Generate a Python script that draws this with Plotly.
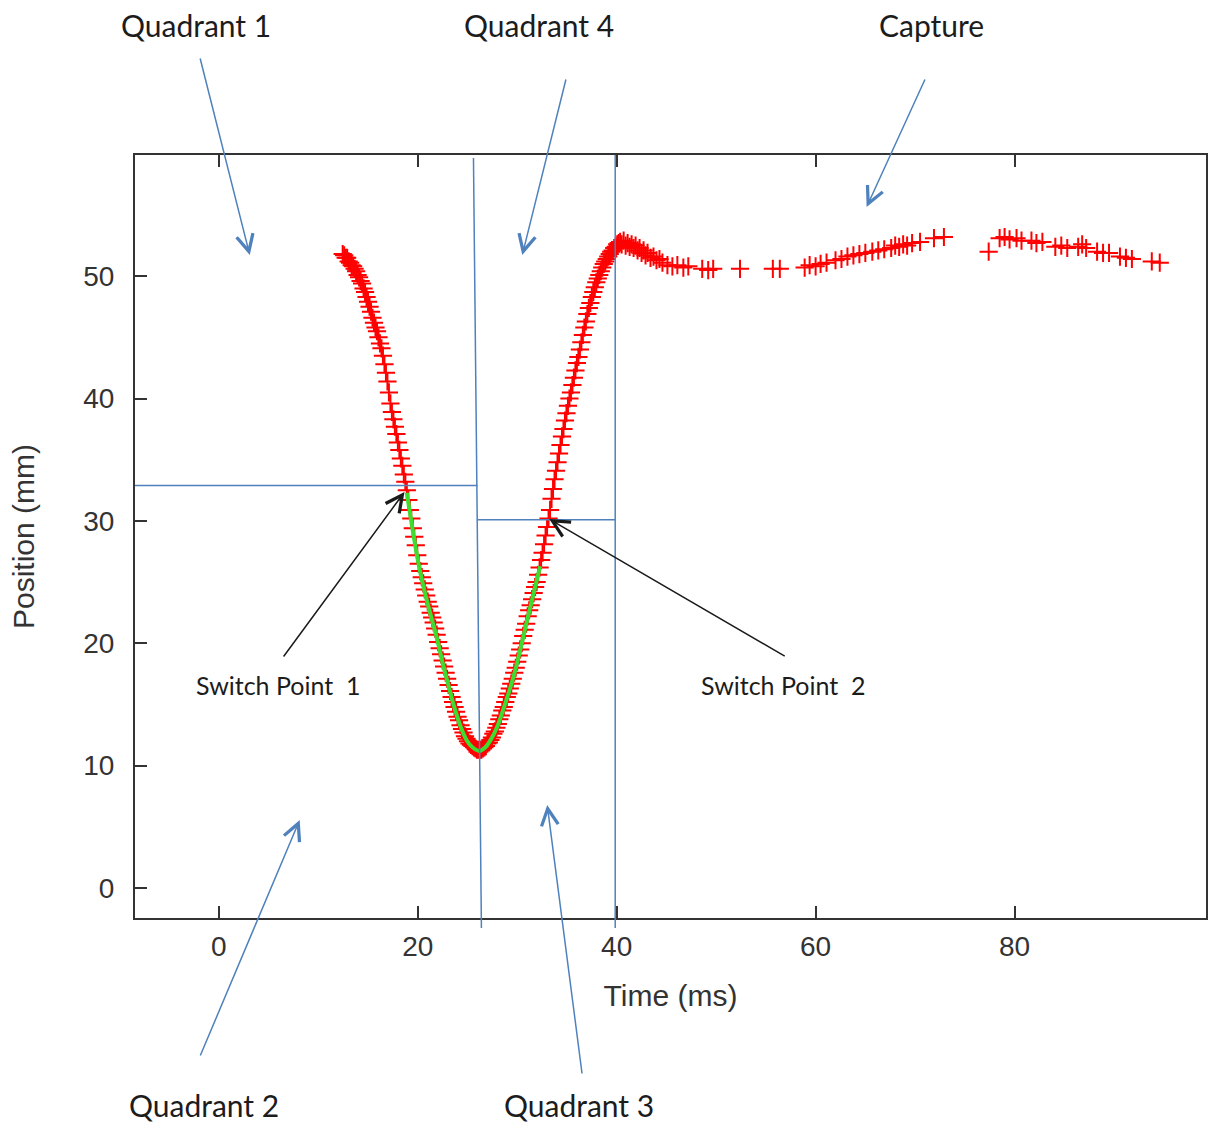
import plotly.graph_objects as go

# ---------------- data ----------------
descend_t = [12.45, 12.6, 12.75, 12.9, 13.05, 13.2, 13.35, 13.5, 13.65, 13.8, 13.95, 14.1, 14.25, 14.4,
             14.55, 14.7, 14.85, 15.0, 15.15, 15.3, 15.45, 15.6, 15.75, 15.9, 16.05, 16.2, 16.35, 16.5,
             16.65, 16.8, 16.95, 17.1, 17.25, 17.4, 17.55, 17.7, 17.85, 18.0, 18.15, 18.3, 18.45, 18.6,
             18.75, 18.9, 19.05, 19.2, 19.35, 19.5, 19.65, 19.8, 19.95, 20.1, 20.25, 20.4, 20.55, 20.7,
             20.85, 21.0, 21.15, 21.3, 21.45, 21.6, 21.75, 21.9, 22.05, 22.2, 22.35, 22.5, 22.65, 22.8,
             22.95, 23.1, 23.25, 23.4, 23.55, 23.7, 23.85, 24.0, 24.15, 24.3, 24.45, 24.6, 24.75, 24.9,
             25.05, 25.2, 25.35, 25.5, 25.65, 25.8, 25.95, 26.1]
descend_y = [51.8, 51.7, 51.5, 51.5, 51.2, 51.1, 50.9, 50.8, 50.6, 50.4, 50.1, 49.9, 49.6, 49.4,
             49.0, 48.7, 48.3, 47.9, 47.5, 47.1, 46.6, 46.2, 45.8, 45.5, 45.0, 44.5, 44.1, 43.5,
             42.8, 42.1, 41.4, 40.5, 39.6, 38.9, 38.3, 37.7, 37.1, 36.4, 35.8, 35.1, 34.5, 33.8,
             33.2, 32.5, 31.7, 30.9, 30.2, 29.4, 28.7, 28.0, 27.2, 26.5, 25.9, 25.4, 24.9, 24.4,
             23.9, 23.4, 23.0, 22.5, 22.1, 21.7, 21.2, 20.7, 20.1, 19.6, 19.1, 18.6, 18.1, 17.6,
             17.1, 16.6, 16.1, 15.6, 15.2, 14.8, 14.4, 14.0, 13.7, 13.3, 13.0, 12.7, 12.4, 12.2,
             12.0, 11.8, 11.7, 11.6, 11.5, 11.4, 11.3, 11.3]

rise_t = [26.25, 26.4, 26.55, 26.7, 26.85, 27.0, 27.15, 27.3, 27.45, 27.6, 27.75, 27.9, 28.05, 28.2,
          28.35, 28.5, 28.65, 28.8, 28.95, 29.1, 29.25, 29.4, 29.55, 29.7, 29.85, 30.0, 30.15, 30.3,
          30.45, 30.6, 30.75, 30.9, 31.05, 31.2, 31.35, 31.5, 31.65, 31.8, 31.95, 32.1, 32.25, 32.4,
          32.55, 32.7, 32.85, 33.0, 33.15, 33.3, 33.45, 33.6, 33.75, 33.9, 34.05, 34.2, 34.35, 34.5,
          34.65, 34.8, 34.95, 35.1, 35.25, 35.4, 35.55, 35.7, 35.85, 36.0, 36.15, 36.3, 36.45, 36.6,
          36.75, 36.9, 37.05, 37.2, 37.35, 37.5, 37.65, 37.8, 37.95, 38.1, 38.25, 38.4, 38.55, 38.7,
          38.85, 39.0, 39.15, 39.3, 39.45, 39.6, 39.75, 39.9, 40.05, 40.2, 40.35]
rise_y = [11.3, 11.3, 11.4, 11.5, 11.6, 11.8, 11.9, 12.1, 12.3, 12.6, 12.8, 13.1, 13.4, 13.8,
          14.1, 14.5, 14.8, 15.2, 15.6, 15.9, 16.3, 16.7, 17.1, 17.6, 18.0, 18.5, 19.0, 19.5,
          20.0, 20.6, 21.1, 21.6, 22.2, 22.7, 23.1, 23.6, 24.1, 24.6, 25.0, 25.6, 26.2, 26.8,
          27.4, 28.1, 28.8, 29.5, 30.2, 30.9, 31.8, 32.6, 33.4, 34.1, 34.8, 35.5, 36.2, 36.9,
          37.5, 38.2, 38.8, 39.4, 40.0, 40.5, 41.1, 41.7, 42.3, 42.9, 43.4, 44.0, 44.6, 45.2,
          45.8, 46.3, 46.9, 47.4, 47.8, 48.3, 48.7, 49.1, 49.5, 49.8, 50.1, 50.4, 50.7, 51.0,
          51.2, 51.4, 51.6, 51.8, 52.0, 52.1, 52.3, 52.4, 52.6, 52.7, 52.8]

capture_t = [40.5, 40.7, 40.9, 41.1, 41.3, 41.5, 41.7, 41.9, 42.1, 42.3, 42.5, 42.7, 42.9, 43.1,
             43.4, 43.7, 44.0, 44.3, 44.6, 45.1, 45.6, 46.1, 46.7, 47.2, 48.6, 49.2, 49.7, 52.4,
             55.7, 56.4, 58.9, 59.4, 60.0, 60.5, 61.1, 62.0, 62.6, 63.2, 63.8, 64.4, 65.0, 65.7,
             66.3, 66.9, 67.6, 68.0, 68.4, 68.8, 69.2, 69.7, 70.5, 71.9, 72.9, 77.4, 78.5, 79.0,
             79.5, 80.2, 80.7, 81.7, 82.2, 82.8, 84.1, 84.7, 85.3, 86.4, 86.8, 87.2, 88.3, 88.9,
             89.5, 90.6, 91.2, 91.8, 93.8, 94.6]
capture_y = [52.6, 52.9, 52.5, 52.7, 52.4, 52.6, 52.3, 52.5, 52.1, 52.3, 51.9, 52.1, 51.7, 51.9,
             51.5, 51.6, 51.3, 51.4, 51.1, 50.9, 50.8, 50.9, 50.7, 50.8, 50.6, 50.5, 50.6, 50.6,
             50.6, 50.6, 50.7, 50.9, 50.8, 51.0, 51.1, 51.3, 51.4, 51.6, 51.7, 51.8, 51.9, 52.0,
             52.1, 52.2, 52.3, 52.5, 52.4, 52.6, 52.5, 52.7, 52.8, 53.1, 53.2, 52.0, 53.1, 53.2,
             53.0, 53.1, 52.9, 52.9, 52.7, 52.8, 52.4, 52.5, 52.3, 52.4, 52.6, 52.3, 52.0, 51.9,
             51.9, 51.6, 51.5, 51.4, 51.2, 51.1]

fit_t = [18.9, 19.5, 20.1, 20.7, 21.3, 21.9, 22.5, 23.1, 23.7, 24.3, 24.9, 25.5, 26.2, 26.8,
         27.4, 28.0, 28.6, 29.2, 29.8, 30.4, 31.0, 31.6, 32.3]
fit_y = [32.3, 29.2, 26.4, 24.2, 22.3, 20.5, 18.4, 16.5, 14.7, 13.2, 12.1, 11.5, 11.2, 11.5,
         12.2, 13.2, 14.6, 16.1, 17.8, 19.8, 21.9, 23.9, 26.3]

x_ticks = [0, 20, 40, 60, 80]
y_ticks = [0, 10, 20, 30, 40, 50]

# quadrant boundaries (data units)
t_mid_top, t_mid_bottom = 25.6, 26.4
t_capture = 39.85
y_switch1 = 32.9
y_switch2 = 30.1

assert len(descend_t) == len(descend_y)
assert len(rise_t) == len(rise_y)
assert len(capture_t) == len(capture_y)
assert len(fit_t) == len(fit_y)

all_t = descend_t + rise_t + capture_t
all_y = descend_y + rise_y + capture_y

# ---------------- layout geometry ----------------
W, H = 1210, 1123
L, R, T, B = 135, 1208, 155, 918
XR = [-8.43, 99.25]
YR = [-2.45, 59.9]


def xp(v):
    return (v - XR[0]) / (XR[1] - XR[0])


def yp(v):
    return (v - YR[0]) / (YR[1] - YR[0])


def P(px, py):
    return (px - L) / (R - L), (B - py) / (B - T)


BLUE = "#4F81BD"
fig = go.Figure()

fig.add_trace(go.Scatter(
    x=all_t, y=all_y, mode="markers",
    marker=dict(symbol="cross-thin", size=13, color="#ff0000",
                line=dict(width=2, color="#ff0000")),
    showlegend=False, hoverinfo="x+y"))

fig.add_trace(go.Scatter(
    x=fit_t, y=fit_y, mode="lines",
    line=dict(color="#3ddc2e", width=4, shape="spline"),
    showlegend=False))

shapes = []
bot_ext = -10 / (B - T)
shapes.append(dict(type="line", xref="paper", yref="paper",
                   x0=xp(t_mid_top), y0=1 - 3 / (B - T), x1=xp(t_mid_bottom), y1=bot_ext,
                   line=dict(color=BLUE, width=1.5)))
shapes.append(dict(type="line", xref="paper", yref="paper",
                   x0=xp(t_capture), y0=1, x1=xp(t_capture), y1=bot_ext,
                   line=dict(color=BLUE, width=1.5)))
shapes.append(dict(type="line", xref="paper", yref="paper",
                   x0=0, y0=yp(y_switch1), x1=xp((t_mid_top + t_mid_bottom) / 2), y1=yp(y_switch1),
                   line=dict(color=BLUE, width=1.5)))
shapes.append(dict(type="line", xref="paper", yref="paper",
                   x0=xp((t_mid_top + t_mid_bottom) / 2), y0=yp(y_switch2), x1=xp(t_capture), y1=yp(y_switch2),
                   line=dict(color=BLUE, width=1.5)))

annotations = []
label_font = dict(family="Lato, Open Sans, sans-serif", size=30, color="#1c1c1c")
small_font = dict(family="Lato, Open Sans, sans-serif", size=25, color="#1c1c1c")

texts = [
    ("Quadrant 1", 196, 25, label_font),
    ("Quadrant 4", 540, 25, label_font),
    ("Capture", 933, 25, label_font),
    ("Quadrant 2", 204, 1105, label_font),
    ("Quadrant 3", 580, 1105, label_font),
    ("Switch Point\u00a0 1", 279, 685, small_font),
    ("Switch Point\u00a0 2", 785, 685, small_font),
]
for txt, px, py, f in texts:
    x, y = P(px, py)
    annotations.append(dict(text=txt, x=x, y=y, xref="paper", yref="paper",
                            xanchor="center", yanchor="middle", showarrow=False, font=f))

arrows = [
    (250, 255, 200, 57, BLUE),
    (523, 255, 567, 78, BLUE),
    (868, 207, 927, 78, BLUE),
    (300, 820, 200, 1057, BLUE),
    (548, 805, 583, 1075, BLUE),
    (405, 492, 283, 658, "#1a1a1a"),
    (550, 519, 787, 657, "#1a1a1a"),
]
for hx, hy, tx, ty, c in arrows:
    x, y = P(hx, hy)
    annotations.append(dict(text="", x=x, y=y, xref="paper", yref="paper",
                            ax=tx - hx, ay=ty - hy, showarrow=True,
                            arrowhead=5, arrowsize=2.2, arrowwidth=1.5, arrowcolor=c,
                            standoff=0, startstandoff=0))

axis_common = dict(showgrid=False, zeroline=False, showline=True, linecolor="#333333",
                   linewidth=2, ticks="inside", ticklen=12, tickwidth=2, tickcolor="#333333",
                   tickfont=dict(family="Liberation Sans, Arial, sans-serif", size=28, color="#333333"))

fig.update_layout(
    width=W, height=H, autosize=False,
    margin=dict(l=L, r=W - R, t=T, b=H - B, pad=0),
    paper_bgcolor="white", plot_bgcolor="white",
    xaxis=dict(range=XR, tickvals=x_ticks, mirror="ticks", ticklabelstandoff=2,
               title=dict(text="Time (ms)", standoff=24,
                          font=dict(family="Liberation Sans, Arial, sans-serif", size=30, color="#333333")),
               **axis_common),
    yaxis=dict(range=YR, tickvals=y_ticks, mirror=True, ticklabelstandoff=13,
               title=dict(text="Position (mm)", standoff=40,
                          font=dict(family="Liberation Sans, Arial, sans-serif", size=30, color="#333333")),
               **axis_common),
    shapes=shapes, annotations=annotations,
)

fig.write_html(
    "out.html",
    config={"responsive": False, "displayModeBar": False},
    post_script="document.body.style.margin='0';document.body.style.padding='0';"
                "document.documentElement.style.overflow='hidden';",
)
